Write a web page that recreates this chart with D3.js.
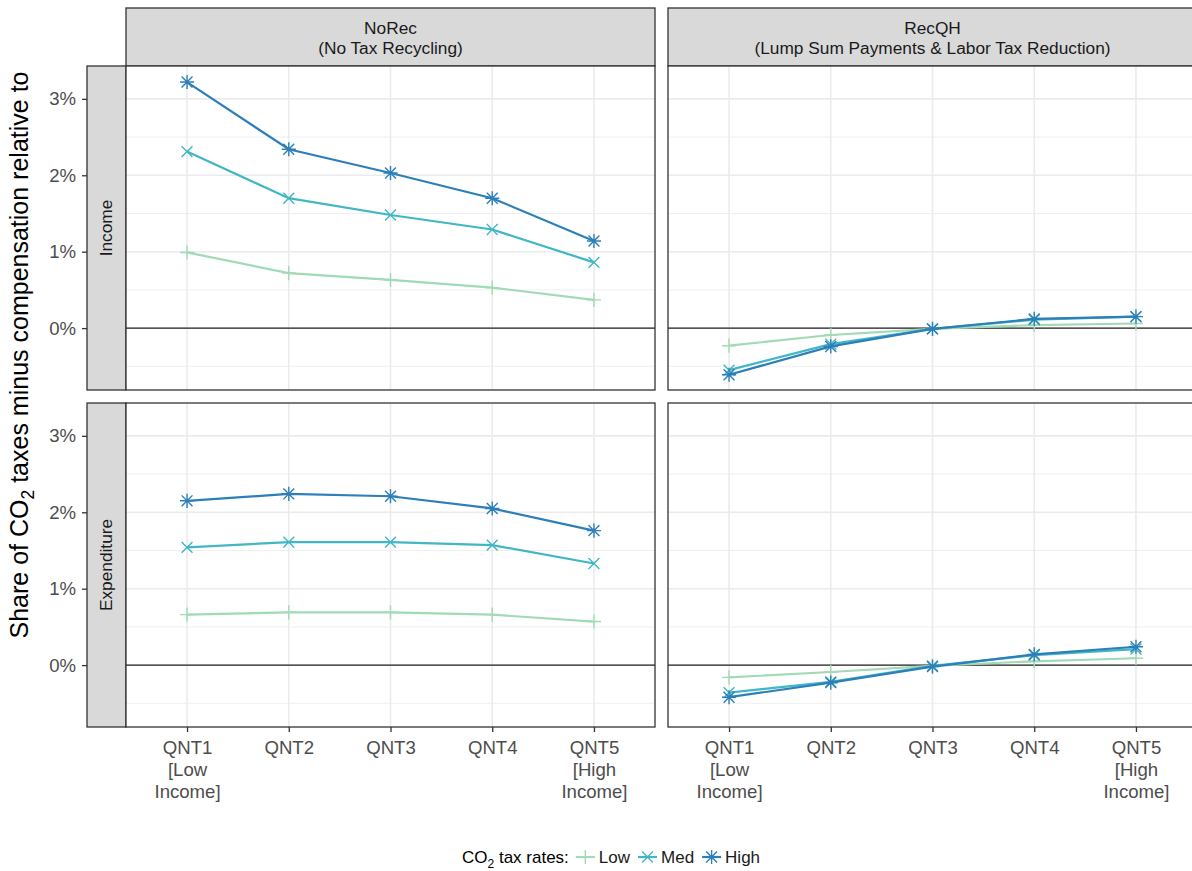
<!DOCTYPE html>
<html>
<head>
<meta charset="utf-8">
<script src="https://cdn.jsdelivr.net/npm/d3@7"></script>
<style>
  body { margin: 0; background: #fff; }
  svg { font-family: "Liberation Sans", Arial, sans-serif; }
</style>
</head>
<body>
<script>
'use strict'

// categories and labels
const quintiles = ["QNT1", "QNT2", "QNT3", "QNT4", "QNT5"]
const quintileLabels = [["QNT1", "[Low", "Income]"], ["QNT2"], ["QNT3"], ["QNT4"], ["QNT5", "[High", "Income]"]]
const rates = ["Low", "Med", "High"]
const yTicks = [0, 1, 2, 3]
const colNames = [["NoRec", "(No Tax Recycling)"], ["RecQH", "(Lump Sum Payments & Labor Tax Reduction)"]]
const rowNames = ["Income", "Expenditure"]

// values in percent
const noRecIncomeLow  = [0.99, 0.72, 0.63, 0.53, 0.37]
const noRecIncomeMed  = [2.31, 1.70, 1.48, 1.29, 0.86]
const noRecIncomeHigh = [3.22, 2.34, 2.03, 1.70, 1.14]
const recIncomeLow  = [-0.23, -0.09, -0.01, 0.04, 0.06]
const recIncomeMed  = [-0.55, -0.21, -0.01, 0.11, 0.15]
const recIncomeHigh = [-0.61, -0.24, -0.01, 0.12, 0.15]
const noRecExpLow  = [0.66, 0.69, 0.69, 0.66, 0.57]
const noRecExpMed  = [1.54, 1.61, 1.61, 1.57, 1.33]
const noRecExpHigh = [2.15, 2.24, 2.21, 2.05, 1.76]
const recExpLow  = [-0.16, -0.09, -0.01, 0.05, 0.09]
const recExpMed  = [-0.36, -0.22, -0.01, 0.13, 0.21]
const recExpHigh = [-0.42, -0.23, -0.02, 0.14, 0.24]

const panels = [
  { row: 0, col: 0, series: [noRecIncomeLow, noRecIncomeMed, noRecIncomeHigh] },
  { row: 0, col: 1, series: [recIncomeLow, recIncomeMed, recIncomeHigh] },
  { row: 1, col: 0, series: [noRecExpLow, noRecExpMed, noRecExpHigh] },
  { row: 1, col: 1, series: [recExpLow, recExpMed, recExpHigh] }
]

let width = 1192, height = 871
let colX = [126, 668], rowY = [66, 403]
let panelW = 529, panelH = 324
let stripTop = 8, stripLeft = 87
let tickFont = 18.6, stripFont = 17.3

const color = ["#a1dab4", "#41b6c4", "#2c7fb8"]

// point shapes like ggplot 3, 4 and 8
const plusShape = { draw(c, s) { let r = Math.sqrt(s) / 2; c.moveTo(-r, 0); c.lineTo(r, 0); c.moveTo(0, -r); c.lineTo(0, r) } }
const timesShape = { draw(c, s) { let r = Math.sqrt(s) / 2.6; c.moveTo(-r, -r); c.lineTo(r, r); c.moveTo(-r, r); c.lineTo(r, -r) } }
const starShape = { draw(c, s) { plusShape.draw(c, s); timesShape.draw(c, s) } }
const shapes = [plusShape, timesShape, starShape]

let x = d3.scalePoint().domain(quintiles).range([0, panelW]).padding(0.6)
let y = d3.scaleLinear().domain([-0.81, 3.43]).range([panelH, 0])

let svg = d3.select("body").append("svg")
  .attr("width", width)
  .attr("height", height)

// top strips
colNames.forEach((nm, ci) => {
  let g = svg.append("g").attr("transform", "translate(" + colX[ci] + "," + stripTop + ")")
  g.append("rect").attr("width", panelW).attr("height", rowY[0] - stripTop)
    .attr("fill", "#d9d9d9").attr("stroke", "#333").attr("stroke-width", 1.3)
  g.append("text").attr("x", panelW / 2).attr("y", 26).attr("text-anchor", "middle")
    .attr("font-size", stripFont).attr("fill", "#1a1a1a").text(nm[0])
  g.append("text").attr("x", panelW / 2).attr("y", 46).attr("text-anchor", "middle")
    .attr("font-size", stripFont).attr("fill", "#1a1a1a").text(nm[1])
})

// row strips and y axes
rowNames.forEach((nm, ri) => {
  let g = svg.append("g").attr("transform", "translate(" + stripLeft + "," + rowY[ri] + ")")
  g.append("rect").attr("width", colX[0] - stripLeft).attr("height", panelH)
    .attr("fill", "#d9d9d9").attr("stroke", "#333").attr("stroke-width", 1.3)
  g.append("text").attr("text-anchor", "middle")
    .attr("transform", "translate(" + 25 + "," + (panelH / 2) + ")rotate(-90)")
    .attr("font-size", stripFont).attr("fill", "#1a1a1a").text(nm)

  let ax = svg.append("g").attr("transform", "translate(" + stripLeft + "," + rowY[ri] + ")")
    .call(d3.axisLeft(y).tickValues(yTicks).tickFormat(d => d + "%").tickSize(5).tickPadding(6))
  ax.select(".domain").remove()
  ax.selectAll(".tick line").attr("stroke", "#333").attr("stroke-width", 1.3)
  ax.selectAll(".tick text").attr("font-size", tickFont).attr("fill", "#4d4d4d")
    .attr("font-family", "Liberation Sans, Arial, sans-serif")
})

let line = d3.line().x((d, i) => x(quintiles[i])).y(d => y(d))

panels.forEach(p => {
  let g = svg.append("g").attr("transform", "translate(" + colX[p.col] + "," + rowY[p.row] + ")")
  g.append("rect").attr("width", panelW).attr("height", panelH).attr("fill", "#fff")

  // minor grid
  g.selectAll(".minor").data([-0.5, 0.5, 1.5, 2.5]).enter().append("line")
    .attr("x1", 0).attr("x2", panelW).attr("y1", d => y(d)).attr("y2", d => y(d))
    .attr("stroke", "#efefef").attr("stroke-width", 1)
  g.selectAll(".hmajor").data(yTicks).enter().append("line")
    .attr("x1", 0).attr("x2", panelW).attr("y1", d => y(d)).attr("y2", d => y(d))
    .attr("stroke", "#ebebeb").attr("stroke-width", 1.6)
  g.selectAll(".vmajor").data(quintiles).enter().append("line")
    .attr("y1", 0).attr("y2", panelH).attr("x1", d => x(d)).attr("x2", d => x(d))
    .attr("stroke", "#ebebeb").attr("stroke-width", 1.6)

  // zero line
  g.append("line").attr("x1", 0).attr("x2", panelW).attr("y1", y(0)).attr("y2", y(0))
    .attr("stroke", "#222").attr("stroke-width", 1.1)

  p.series.forEach((vals, si) => {
    g.append("path").datum(vals).attr("d", line)
      .attr("fill", "none").attr("stroke", color[si]).attr("stroke-width", 2.2)
    g.selectAll(".pt" + si).data(vals).enter().append("path")
      .attr("transform", (d, i) => "translate(" + x(quintiles[i]) + "," + y(d) + ")")
      .attr("d", d3.symbol().type(shapes[si]).size(200))
      .attr("fill", "none").attr("stroke", color[si]).attr("stroke-width", 1.4)
  })

  g.append("rect").attr("width", panelW).attr("height", panelH)
    .attr("fill", "none").attr("stroke", "#333").attr("stroke-width", 1.3)
})

// x axes
colX.forEach(cx => {
  let ax = svg.append("g").attr("transform", "translate(" + cx + "," + (rowY[1] + panelH) + ")")
    .call(d3.axisBottom(x).tickSize(5).tickFormat(""))
  ax.select(".domain").remove()
  ax.selectAll(".tick line").attr("stroke", "#333").attr("stroke-width", 1.3)
  ax.selectAll(".tick").each(function (d, i) {
    let t = d3.select(this).append("text").attr("text-anchor", "middle")
      .attr("font-size", tickFont).attr("fill", "#4d4d4d")
    quintileLabels[i].forEach((s, k) => {
      t.append("tspan").attr("x", 0).attr("y", 27 + k * 22).text(s)
    })
  })
})

// y title
let yt = svg.append("text").attr("text-anchor", "middle")
  .attr("transform", "translate(" + 28 + "," + 355 + ")rotate(-90)")
  .attr("font-size", 25).attr("fill", "#000")
yt.append("tspan").text("Share of CO")
yt.append("tspan").attr("font-size", 17.5).attr("dy", 6).text("2")
yt.append("tspan").attr("dy", -6).text(" taxes minus compensation relative to")

// legend
let lg = svg.append("g").attr("transform", "translate(462,857)")
let lt = lg.append("text").attr("y", 6).attr("font-size", 17).attr("fill", "#000")
lt.append("tspan").text("CO")
lt.append("tspan").attr("font-size", 12).attr("dy", 5).text("2")
lt.append("tspan").attr("dy", -5).text(" tax rates:")
let lx = lt.node().getComputedTextLength() + 7
rates.forEach((r, si) => {
  lg.append("line").attr("x1", lx).attr("x2", lx + 19).attr("y1", 0).attr("y2", 0)
    .attr("stroke", color[si]).attr("stroke-width", 2.2)
  lg.append("path").attr("transform", "translate(" + (lx + 9.5) + ",0)")
    .attr("d", d3.symbol().type(shapes[si]).size(200))
    .attr("fill", "none").attr("stroke", color[si]).attr("stroke-width", 1.4)
  let t = lg.append("text").attr("x", lx + 23).attr("y", 6).attr("font-size", 17)
    .attr("fill", "#1a1a1a").text(r)
  lx += 23 + t.node().getComputedTextLength() + 8
})
</script>
</body>
</html>
